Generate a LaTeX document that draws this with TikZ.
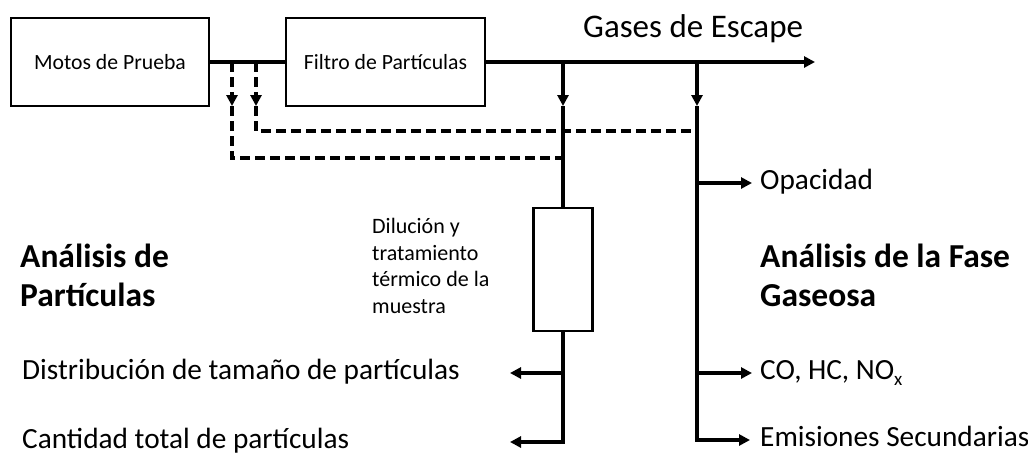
\documentclass[tikz,border=0pt]{standalone}
\usepackage{fontspec}
\setmainfont{Carlito}
\usetikzlibrary{arrows.meta,positioning}
\begin{document}
\begin{tikzpicture}[x=1pt, y=-1pt,
    caja/.style={draw, line width=2.5pt, inner sep=0pt, font=\fontsize{21.7}{26}\selectfont},
    flujo/.style={line width=3.5pt},
    punta/.style={-{Triangle[length=11pt, width=11pt]}},
    muestra/.style={line width=3.5pt, dash pattern=on 10pt off 5pt},
    etiqueta/.style={anchor=base west, inner sep=0pt, font=\fontsize{29.3}{35}\selectfont},
    titulo/.style={anchor=base west, inner sep=0pt, align=left, font=\bfseries\fontsize{33.5}{39}\selectfont}]
    \useasboundingbox (0,0) rectangle (1028,456);
    % Draw boxes
    \node [caja, minimum width=198pt, minimum height=88pt] (motos) at (110,62) {Motos de Prueba};
    \node [caja, minimum width=199pt, minimum height=88pt] (filtro) at (385.5,62) {Filtro de Partículas};
    \node [caja, line width=2.3pt, minimum width=59pt, minimum height=123pt] (dil) at (563,269.5) {};

    % Main exhaust line
    \coordinate (fin) at (815,62);
    \draw [flujo] (motos) -- (filtro);
    \draw [flujo, punta] (filtro) -- (fin);
    \node [etiqueta, font=\fontsize{33}{39}\selectfont] (gases) at (583,37) {Gases de Escape};

    % Sample taps
    \coordinate (pA) at (563,62);
    \coordinate (pAf) at (563,106);
    \coordinate (pB) at (697,62);
    \coordinate (pBf) at (697,106);
    \draw [flujo, punta] (pA) -- (pAf);
    \draw [flujo] (pAf) -- (dil.north);
    \draw [flujo, punta] (pB) -- (pBf);

    % Particle side
    \coordinate (dist) at (563,373);
    \coordinate (distf) at (510,373);
    \coordinate (cantf) at (510,442);
    \draw [flujo] (dil.south) -- (dist);
    \draw [flujo, punta] (dist) -- (distf);
    \draw [flujo, punta] (dist) |- (cantf);

    % Gas side
    \coordinate (opa) at (697,183);
    \coordinate (opaf) at (752,183);
    \coordinate (co) at (697,373);
    \coordinate (cof) at (752,373);
    \coordinate (emif) at (750,440);
    \draw [flujo, punta] (pBf) |- (emif);
    \draw [flujo, punta] (opa) -- (opaf);
    \draw [flujo, punta] (co) -- (cof);

    % Dashed sample lines
    \coordinate (m1) at (232,62);
    \coordinate (m1f) at (232,106);
    \coordinate (m1e) at (563,158);
    \coordinate (m2) at (256,62);
    \coordinate (m2f) at (256,106);
    \coordinate (m2e) at (697,131);
    \draw [muestra, punta] (m1) -- (m1f);
    \draw [muestra] (m1f) |- (m1e);
    \draw [muestra, punta] (m2) -- (m2f);
    \draw [muestra] (m2f) |- (m2e);

    % Labels
    \node [etiqueta] (opacidad) at (760,189) {Opacidad};
    \node [etiqueta] (gasesco) at (760,379) {CO, HC, NO\raisebox{-6pt}{\fontsize{19}{19}\selectfont x}};
    \node [etiqueta] (secund) at (760,446) {Emisiones Secundarias};
    \node [etiqueta] (distrib) at (22,379) {Distribución de tamaño de partículas};
    \node [etiqueta] (cantidad) at (22,448) {Cantidad total de partículas};
    \node [titulo] (tpart) at (20,306) {Análisis de\\Partículas};
    \node [titulo] (tgas) at (760,306) {Análisis de la Fase\\Gaseosa};
    \node [anchor=base west, inner sep=0pt, align=left, font=\fontsize{22}{26.5}\selectfont] (diltxt) at (372,313) {Dilución y\\tratamiento\\térmico de la\\muestra};
\end{tikzpicture}
\end{document}
